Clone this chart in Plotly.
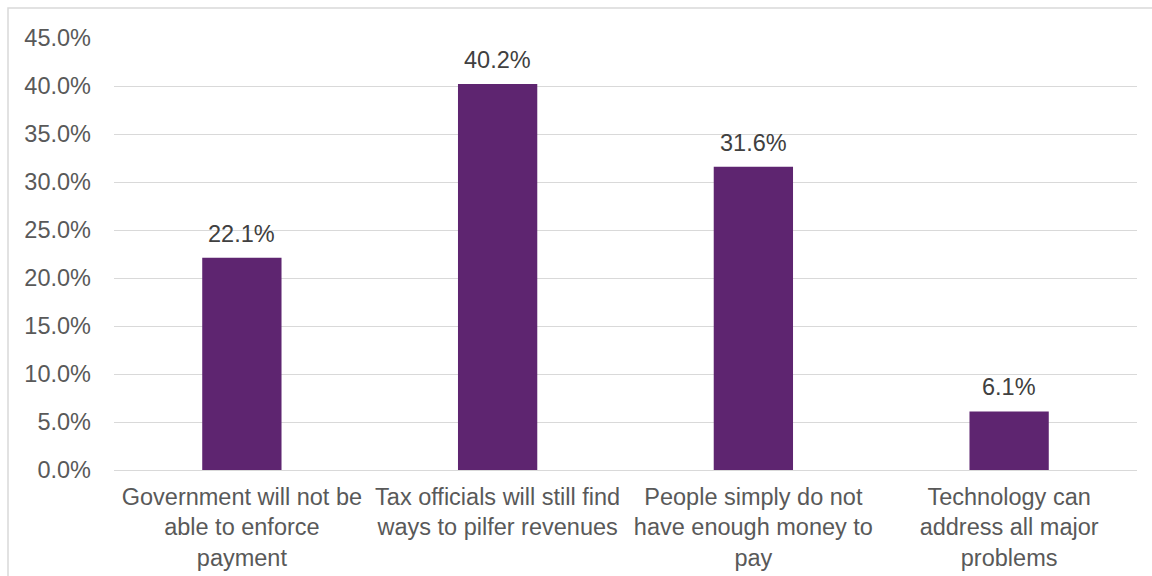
import plotly.graph_objects as go

categories = [
    "Government will not be<br>able to enforce<br>payment",
    "Tax officials will still find<br>ways to pilfer revenues",
    "People simply do not<br>have enough money to<br>pay",
    "Technology can<br>address all major<br>problems",
]
values = [22.1, 40.2, 31.6, 6.1]
tick_vals = [0, 5, 10, 15, 20, 25, 30, 35, 40, 45]
tick_text = [f"{v:.1f}%" for v in tick_vals]
value_labels = [f"{v:.1f}%" for v in values]

W, H = 1152, 576
L, R, T, B = 114, 15, 38, 106
pw, ph = W - L - R, H - T - B
FONT = 23.5

fig = go.Figure(
    go.Bar(
        x=categories,
        y=values,
        width=0.31,
        marker=dict(color="#5E2570", line=dict(width=0)),
        hoverinfo="x+y",
    )
)

# value labels above each bar
for cat, val, lab in zip(categories, values, value_labels):
    fig.add_annotation(
        x=cat,
        y=val,
        text=lab,
        showarrow=False,
        yanchor="bottom",
        yshift=9,
        font=dict(size=FONT, color="#404040"),
    )

fig.update_layout(
    width=W,
    height=H,
    margin=dict(l=L, r=R, t=T, b=B, autoexpand=False),
    paper_bgcolor="white",
    plot_bgcolor="white",
    font=dict(family="Liberation Sans, Arial, sans-serif", size=FONT, color="#595959"),
    showlegend=False,
    xaxis=dict(
        automargin=False,
        showgrid=False,
        showline=False,
        ticks="",
        ticklabelstandoff=10,
        tickfont=dict(size=FONT, color="#595959"),
    ),
    yaxis=dict(
        automargin=False,
        range=[0, 45],
        tickvals=tick_vals,
        ticktext=tick_text,
        showgrid=True,
        gridcolor="#D9D9D9",
        gridwidth=1.3,
        zeroline=True,
        zerolinecolor="#D9D9D9",
        zerolinewidth=1.3,
        showline=False,
        ticks="",
        ticklabelstandoff=22,
        tickfont=dict(size=FONT, color="#595959"),
    ),
    shapes=[
        dict(
            type="rect",
            xref="paper",
            yref="paper",
            x0=(8 - L) / pw,
            x1=(W + 5 - L) / pw,
            y0=-(B + 10) / ph,
            y1=1 + (T - 8) / ph,
            line=dict(color="#D9D9D9", width=1.5),
            fillcolor="rgba(0,0,0,0)",
            layer="below",
        )
    ],
)

fig.write_html("out.html")
